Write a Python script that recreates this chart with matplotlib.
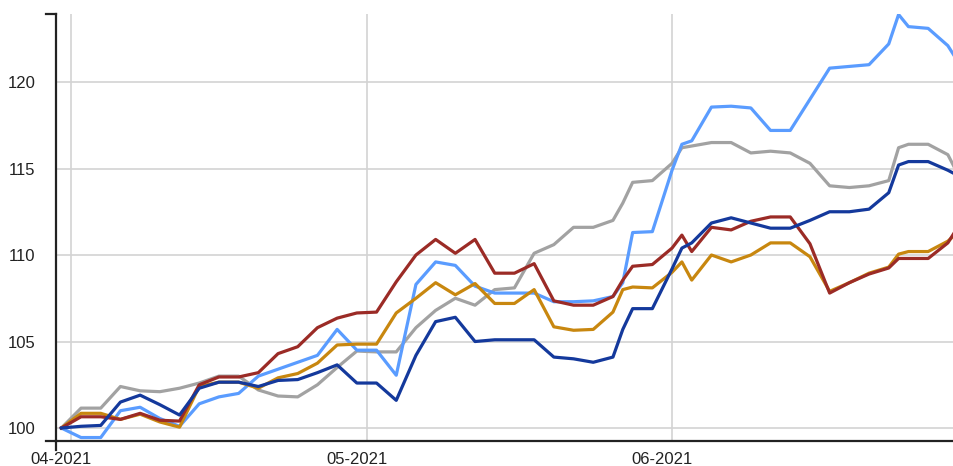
import numpy as np
import pandas as pd
import matplotlib
matplotlib.use('Agg')
import matplotlib.pyplot as plt
import matplotlib.dates as mdates
import matplotlib.transforms as mtransforms

plt.rcParams['font.family'] = ['Liberation Sans', 'DejaVu Sans']

# dates (mostly every two days)
dates = pd.to_datetime([
    '2021-03-31', '2021-04-02', '2021-04-04', '2021-04-06', '2021-04-08',
    '2021-04-10', '2021-04-12', '2021-04-14', '2021-04-16', '2021-04-18',
    '2021-04-20', '2021-04-22', '2021-04-24', '2021-04-26', '2021-04-28',
    '2021-04-30', '2021-05-02', '2021-05-04', '2021-05-06', '2021-05-08',
    '2021-05-10', '2021-05-12', '2021-05-14', '2021-05-16', '2021-05-18',
    '2021-05-20', '2021-05-22', '2021-05-24', '2021-05-26', '2021-05-27',
    '2021-05-28', '2021-05-30', '2021-06-01', '2021-06-02', '2021-06-03',
    '2021-06-05', '2021-06-07', '2021-06-09', '2021-06-11', '2021-06-13',
    '2021-06-15', '2021-06-17', '2021-06-19', '2021-06-21', '2021-06-23',
    '2021-06-24', '2021-06-25', '2021-06-27', '2021-06-29', '2021-06-30'])

light_blue = [100.0, 99.45, 99.45, 101.0, 101.2, 100.55, 100.1, 101.4, 101.8, 102.0,
              103.0, 103.4, 103.8, 104.2, 105.7, 104.5, 104.5, 103.05, 108.3, 109.6,
              109.4, 108.2, 107.8, 107.8, 107.8, 107.3, 107.3, 107.35, 107.6, 108.4,
              111.3, 111.35, 114.9, 116.4, 116.6, 118.55, 118.6, 118.5, 117.2, 117.2,
              119.0, 120.8, 120.9, 121.0, 122.2, 123.9, 123.2, 123.1, 122.1, 121.2]

gray = [100.0, 101.15, 101.15, 102.4, 102.15, 102.1, 102.3, 102.6, 103.0, 103.0,
        102.2, 101.85, 101.8, 102.5, 103.5, 104.45, 104.4, 104.4, 105.8, 106.8,
        107.5, 107.1, 108.0, 108.1, 110.1, 110.6, 111.6, 111.6, 112.0, 113.0,
        114.2, 114.3, 115.3, 116.2, 116.3, 116.5, 116.5, 115.9, 116.0, 115.9,
        115.3, 114.0, 113.9, 114.0, 114.3, 116.2, 116.4, 116.4, 115.8, 114.7]

dark_blue = [100.0, 100.1, 100.15, 101.5, 101.9, 101.35, 100.75, 102.3, 102.65, 102.65,
             102.4, 102.75, 102.8, 103.2, 103.65, 102.6, 102.6, 101.6, 104.2, 106.15,
             106.4, 105.0, 105.1, 105.1, 105.1, 104.1, 104.0, 103.8, 104.1, 105.7,
             106.9, 106.9, 109.2, 110.4, 110.7, 111.85, 112.15, 111.85, 111.55, 111.55,
             112.0, 112.5, 112.5, 112.65, 113.6, 115.2, 115.4, 115.4, 114.9, 114.6]

dark_red = [100.0, 100.65, 100.65, 100.5, 100.85, 100.45, 100.4, 102.5, 102.95, 102.95,
            103.2, 104.3, 104.7, 105.8, 106.35, 106.65, 106.7, 108.45, 110.0, 110.9,
            110.1, 110.9, 108.95, 108.95, 109.5, 107.35, 107.1, 107.1, 107.6, 108.55,
            109.35, 109.45, 110.4, 111.15, 110.2, 111.6, 111.45, 111.95, 112.2, 112.2,
            110.65, 107.8, 108.4, 108.9, 109.25, 109.8, 109.8, 109.8, 110.7, 111.6]

gold = [100.0, 100.85, 100.85, 100.5, 100.8, 100.35, 100.05, 102.4, 102.65, 102.65,
        102.3, 102.9, 103.15, 103.75, 104.8, 104.85, 104.85, 106.65, 107.5, 108.4,
        107.7, 108.35, 107.2, 107.2, 108.0, 105.85, 105.65, 105.7, 106.7, 108.0,
        108.15, 108.1, 109.0, 109.6, 108.55, 110.0, 109.6, 110.0, 110.7, 110.7,
        109.9, 107.9, 108.4, 108.95, 109.3, 110.05, 110.2, 110.2, 110.8, 111.3]

series = [
    (gray, '#a2a2a2'),
    (light_blue, '#5a9cff'),
    (gold, '#c8870f'),
    (dark_red, '#9b2b26'),
    (dark_blue, '#14399c'),
]

y_ticks = [100, 105, 110, 115, 120]
x_ticks = pd.to_datetime(['2021-04-01', '2021-05-01', '2021-06-01'])
x_labels = ['04-2021', '05-2021', '06-2021']

fig = plt.figure(figsize=(9.54, 4.66), dpi=100)
ax = fig.add_axes([56/954, 25/466, 898/954, 427/466])

for vals, col in series:
    ax.plot(dates, vals, color=col, lw=2.3, solid_joinstyle='round', zorder=3)

ax.set_xlim(pd.Timestamp('2021-03-30 11:00'), pd.Timestamp('2021-06-29 15:00'))
ax.set_ylim(99.25, 123.93)

ax.set_yticks(y_ticks)
ax.set_yticklabels([str(v) for v in y_ticks])
ax.set_xticks(x_ticks)
ax.set_xticklabels(x_labels)
ax.grid(True, color='#d3d3d3', lw=1.2, zorder=0)
ax.set_axisbelow(True)

ax.tick_params(axis='both', length=0, labelsize=12, colors='#222222')
ax.tick_params(axis='y', pad=15)
ax.tick_params(axis='x', pad=8)
# labels sit a bit left of the gridlines in the reference
offset = mtransforms.ScaledTranslation(-10/100, 0, fig.dpi_scale_trans)
for lab in ax.get_xticklabels():
    lab.set_transform(lab.get_transform() + offset)

for s in ['top', 'right']:
    ax.spines[s].set_visible(False)
for s in ['left', 'bottom']:
    ax.spines[s].set_color('#222222')
    ax.spines[s].set_linewidth(1.6)

# little axis stubs at the corner and top
tr = ax.transAxes
ax.plot([-10/898, 0], [1, 1], color='#222222', lw=1.6, transform=tr, clip_on=False)
ax.plot([-10/898, 0], [0, 0], color='#222222', lw=1.6, transform=tr, clip_on=False)
ax.plot([0, 0], [0, -9/427], color='#222222', lw=1.6, transform=tr, clip_on=False)

fig.savefig('out.png', dpi=100)
